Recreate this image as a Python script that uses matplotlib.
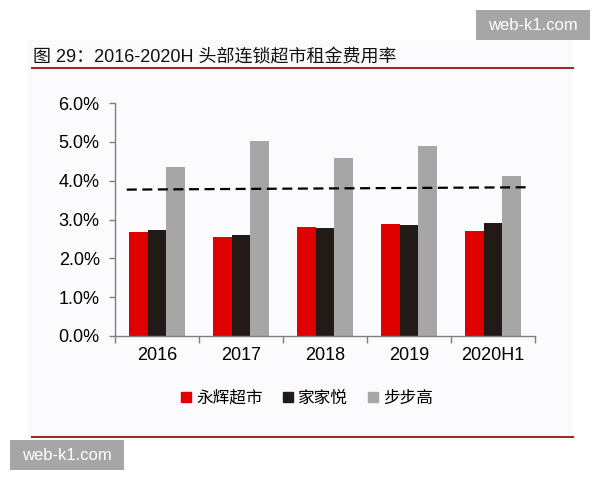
import matplotlib.pyplot as plt
from matplotlib.patches import Rectangle
from matplotlib.lines import Line2D
from matplotlib.ticker import FuncFormatter
import numpy as np

plt.rcParams['font.family'] = ['Liberation Sans', 'Noto Sans CJK SC', 'DejaVu Sans']

years = ['2016', '2017', '2018', '2019', '2020H1']
yonghui = [2.67, 2.55, 2.80, 2.89, 2.71]
jiajiayue = [2.73, 2.59, 2.77, 2.85, 2.90]
bubugao = [4.35, 5.01, 4.58, 4.88, 4.11]
series_names = ['永辉超市', '家家悦', '步步高']
colors = ['#e00000', '#221a17', '#a6a6a6']
# dashed reference line, start/end
avg_x = [-0.36, 4.42]
avg_y = [3.77, 3.83]

fig = plt.figure(figsize=(6, 4.8), dpi=100)
W, H = 600.0, 480.0

# faint panel background of the screenshot
fig.patches.append(Rectangle((27 / W, 1 - 437 / H), (573 - 27) / W, (437 - 40) / H,
                             transform=fig.transFigure, facecolor='#fbfafc',
                             edgecolor='none', zorder=-5))

ax = fig.add_axes([115 / W, 1 - 336 / H, 420 / W, 233 / H])
ax.patch.set_alpha(0)

x = np.arange(len(years))
w = 0.22
ax.bar(x - w, yonghui, w, color=colors[0])
ax.bar(x, jiajiayue, w, color=colors[1])
ax.bar(x + w, bubugao, w, color=colors[2])
ax.plot(avg_x, avg_y, color='black', lw=1.6, linestyle=(0, (4.5, 2.5)))

ax.set_xlim(-0.5, len(years) - 0.5)
ax.set_ylim(0, 6)
ax.set_yticks(np.arange(0, 7, 1))
ax.yaxis.set_major_formatter(FuncFormatter(lambda v, p: '%.1f%%' % v))
ax.set_xticks(x)
ax.set_xticklabels(years)
ax.set_xticks(np.arange(-0.5, len(years), 1), minor=True)
ax.tick_params(axis='x', which='major', length=0, pad=8, labelsize=13)
ax.tick_params(axis='x', which='minor', length=5, color='#7f7f7f', width=1)
ax.tick_params(axis='y', length=4, pad=7, labelsize=13, color='#7f7f7f', width=1)
for s in ['top', 'right']:
    ax.spines[s].set_visible(False)
for s in ['left', 'bottom']:
    ax.spines[s].set_color('#7f7f7f')
    ax.spines[s].set_linewidth(1)

handles = [Line2D([], [], marker='s', ls='none', color=c, markersize=6.5) for c in colors]
fig.legend(handles, series_names, loc='center', bbox_to_anchor=(307 / W, 1 - 398 / H),
           ncol=3, frameon=False, fontsize=12, handlelength=0.6, handletextpad=0.3,
           columnspacing=1.2)

fig.text(33 / W, 1 - 58 / H, '图 29：2016-2020H 头部连锁超市租金费用率', fontsize=13,
         va='center', ha='left', color='#111111')

for yy in [68, 437]:
    fig.lines.append(Line2D([32 / W, 573 / W], [1 - yy / H, 1 - yy / H],
                            transform=fig.transFigure, color='#9e2a2b', lw=1.5))

# watermarks
for (x0, y0, x1, y1) in [(476, 10, 590, 40), (10, 440, 124, 470)]:
    fig.patches.append(Rectangle((x0 / W, 1 - y1 / H), (x1 - x0) / W, (y1 - y0) / H,
                                 transform=fig.transFigure, facecolor='#a6a6a6',
                                 edgecolor='none', zorder=5))
    fig.text((x0 + x1) / 2 / W, 1 - (y0 + y1) / 2 / H, 'web-k1.com', color='white',
             fontsize=12, ha='center', va='center', zorder=6)

fig.savefig('out.png', dpi=100)
